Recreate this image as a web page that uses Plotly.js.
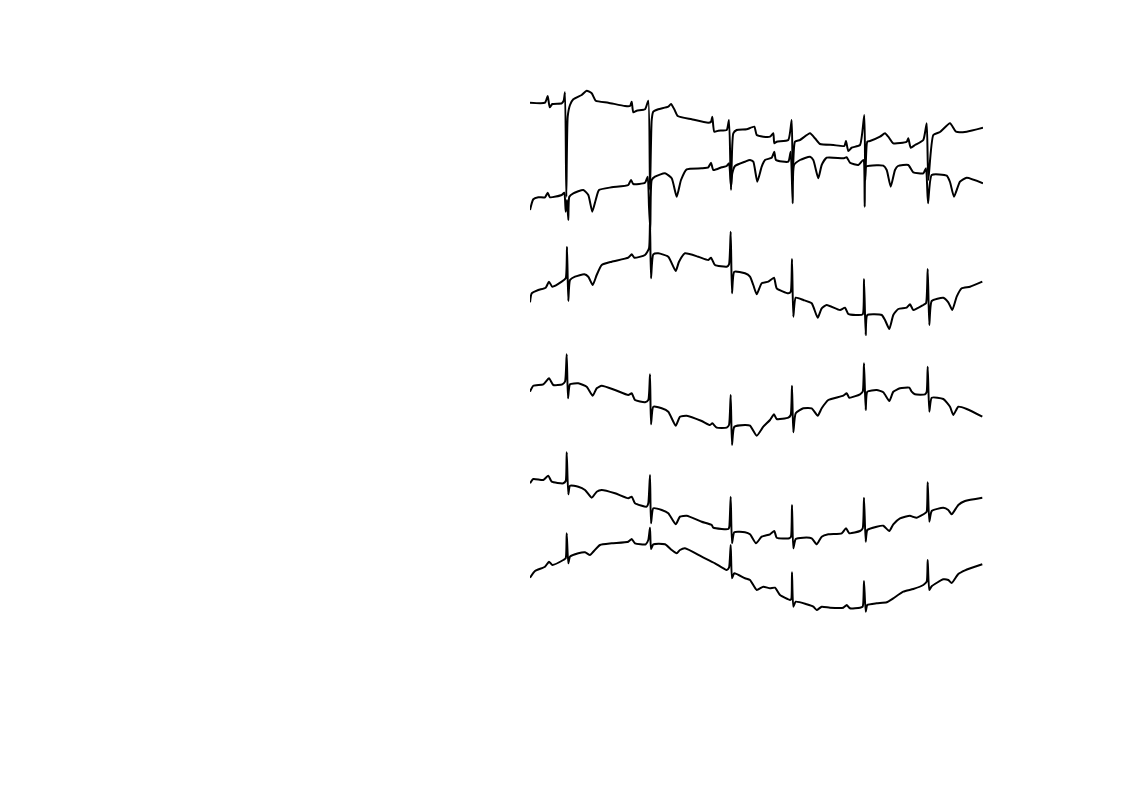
<!DOCTYPE html>
<html>
<head>
<meta charset="utf-8">
<script src="https://cdn.plot.ly/plotly-3.0.1.min.js"></script>
<style>html,body{margin:0;padding:0;background:#fff;}#chart{width:1122px;height:793px;}</style>
</head>
<body>
<div id="chart"></div>
<script>
// Six stacked ECG leads (time in samples, signal in display units, downward)
const lead1_t = [530,545,547.7,549.7,552.3,561.7,563.7,565,566.3,567.7,570,573.3,581.7,586.7,591.7,595.7,608.3,625,630,631.7,633.3,636.7,645,648.3,650,651.7,653.3,658.3,668.3,671,674.3,677.7,691.7,708.3,711,712.3,714.3,718.3,726.7,729,731,733.3,736.7,746.7,754.3,756.7,763.3,770,773.3,774.3,776.7,788.3,791.7,792.7,795,800,810,815,820,833.3,844.3,846,848.3,851.7,860,864.3,865.3,867.3,870,880,885,888.3,893.3,906.7,908.3,910.7,915,923.3,926.7,928.3,933.3,940,950,956,966.7,983];
const lead1_v = [102.7,102.7,96,107.3,104,103.3,100.7,92.3,196.7,116.7,105,99.3,95,90.7,93.3,100.7,102.7,106,106,101.7,112.3,110.7,109.3,100.7,190,120,111.7,109.3,106.7,104,109.3,116,119.3,122.7,121.7,116.7,131.7,130.7,130,120,190,133.3,130,129.3,126.7,135,136.7,136.7,133.3,143.3,141.7,140,120,180,141.7,140,133.3,138.3,144,145,146,141,151,147.7,145,115,180,141.7,141,136.7,133.3,136.7,143.3,141.7,138.3,147.7,145,140,123.3,180,135,132,123.3,131.7,131.7,127.7];

const lead2_t = [530,533.3,538.3,545,547.7,550,561.7,564.3,565.7,567,568.3,569.3,573.3,583.3,588.3,592.3,595.7,599,611.7,628.3,631,633.3,645,647.7,649,650.3,651.7,655,665,671.7,676.7,681,686.7,701.7,708.3,711,713.3,721.7,726.7,729,731,732.3,735,745,750,753.3,757.3,761.7,765,771.7,774.3,776,788.3,790.7,792.7,794,800,810,813.3,818.3,821.7,826.7,843.3,846.7,850,858.3,863.3,864.7,866,870,883.3,886.7,890.7,895,898,908.3,913.3,923.3,926,928,931.7,946.7,950,954,960,966.7,983];
const lead2_v = [210,199.3,197.3,197.3,192.7,197.3,195,192.7,211.7,200,220,196.7,193.3,190,195,211.7,200,190,187.3,185,180,184,182.7,176.7,206.7,230,180,176.7,173.3,178.3,196.7,180,169.3,168.3,167.3,162.7,170,167.3,166,163.3,186.7,173.3,166,161.7,160,161.7,181.7,166.7,160,157.7,151.7,160,161.7,151.7,203.3,165,160,156.7,160,178.3,165,157.7,158.3,157.3,162.7,165,160,206.7,166.7,165.7,165.7,170,186.7,170,166,165,172.3,173.3,168.3,203.3,175,175.7,182,196.7,181.7,177.7,183.3];

const lead3_t = [530,531.7,538.3,545.7,549,552.3,561.7,565.7,567,568.3,570,575,584.3,588.3,592.7,596.7,601.7,611.7,628.3,631.7,634.3,645,649,650,651,653.3,658.3,668.3,675.7,679,685,698.3,708.3,711,715,726.7,729,730.7,732,734.3,745,750,753.3,756.7,761.7,768.3,774,776.7,788.3,790.7,792,793.3,795.7,803.3,811.7,817.7,821.7,826.7,840,845,848.3,858.3,862.7,864,865.7,867.3,881.7,885,889.3,893.3,898.3,906.7,910,913.3,923.3,926,927.7,929.3,931.7,943.3,948.3,952.3,956.7,961.7,970,982.3];
const lead3_v = [302.3,293.3,290,287.7,281.7,286.7,281.7,278.3,246.7,301,280,276.7,274.3,276.7,285,275,265,261.7,257.7,254.3,257.7,255,248.3,221,278.3,254.3,253.3,256.7,271,261.7,253.3,256.7,260,257.7,265,266.7,264.3,231.7,293.3,271.7,273.3,276.7,285,294.3,283.3,281.7,277.7,288.3,293.3,291.7,259,316.7,297.7,300,303.3,317.7,308.3,305,310,307.7,314,315,314.3,279,335,315,315,320,329,315,309,307.7,304.3,310,305,303.3,269,325,301,297.7,302.3,310,296.7,288.3,286.7,281.7];

const lead4_t = [530,533.3,543.3,549,553.3,562.3,565,566.7,568,570,578.3,586.7,592.7,596.7,601.7,615,628.3,631.7,635,645,648.3,650,651,653.3,661.7,668.3,675.7,680,686.7,701.7,710,712.3,716.7,726.7,729,730.7,732,734.3,745,750,756.7,763.3,770,774,776.7,788.3,790.7,792,793.3,795.7,803.3,811.7,817.7,821.7,828.3,843.3,846.7,849.3,860,862.7,864,865.7,867.3,876.7,883.3,889.3,893.3,900,909.3,911.7,915,925,926.7,927.7,929.3,931.7,943.3,950,953.3,958.3,966.7,982.3];
const lead4_v = [391.7,385.7,384.3,378.3,385,384.3,381.7,354.3,398.3,384.3,383.3,386.7,395.7,388.3,385.7,390,395,393.3,400,402.3,400,374.3,424.3,406.7,408.3,411.7,425.7,416.7,415.7,421,425,423.3,427.7,427.7,425,395,445,426.7,425,425.7,435.7,426.7,420,414.3,419,417.7,415,385.7,432.3,413.3,408.3,408.3,415.7,408.3,400,395.7,393.3,397.7,394.3,391.7,363.3,410,391.7,390,392.3,401,391.7,388.3,387.7,391.7,394.3,394.3,391.7,366.7,411.7,397.7,399,406.7,415,406.7,409,416.7];

const lead5_t = [530,533.3,543.3,548.3,551.7,563.3,565.7,566.7,568.3,570,578.3,585,591.7,596.7,601.7,615,628.3,631.7,635,646.7,648.3,650,651,653.3,661.7,668.3,675.7,680,686.7,701.7,711.7,713.3,721.7,728.3,729.3,730.7,732,734.3,745,750,756,761.7,770,774.3,776.7,789.3,791,792,793.3,795.7,803.3,811.7,816.7,821.7,828.3,841.7,846,849.3,860,862.7,864,865.7,867.3,876.7,883.3,889.3,893.3,900,910,912.7,916.7,925,926.7,927.7,929.3,931.7,943.3,948.3,951.7,958.3,965,982.3];
const lead5_v = [483.3,479,480,475.7,481.7,483.3,481,452.3,494.3,485.7,486.7,490,497.7,491.7,490,493.3,498.3,496.7,503.3,506.7,503.3,475,523.3,508.3,510,513.3,524.3,516.7,515.7,521.7,525,527.7,529,529,526.7,496.7,543.3,532.3,532.3,534.3,543.3,536.7,534.3,531,537.7,538.3,536.7,505,548.3,539,537.7,538.3,544.3,536.7,534.3,533.3,528.3,533.3,531,528.3,497.7,541.7,530,526.7,525.7,531,524.3,518.3,515.7,516.7,517.7,513.3,511.7,482.3,521.7,511,507.7,510,514.3,505,501,497.7];

const lead6_t = [530,535,545,549,552.3,563.3,565.7,566.7,568.3,570,578.3,585,590,593.3,600,611.7,628.3,631.7,635,645.7,648.3,650,651,653.3,665,671.7,676.7,680,685,701.7,715,726.7,729,730.7,732,734.3,745,750,756.7,763.3,770,775,780,790,791.3,792,793.3,795.7,806.7,813.3,816.7,821.7,830,843.3,846.7,850,860,862.7,864,865.7,867.3,876.7,886.7,893.3,903.3,913.3,923.3,926.7,927.7,929.3,931.7,943.3,948.3,951.7,958.3,965,982.3];
const lead6_v = [577.7,571,566.7,561.7,565,560,558.3,533.3,563.3,556.7,553.3,552.3,555,551.7,545,543.3,541.7,539,543.3,544.3,540,527.7,549,544.3,544.3,550,553.3,550,548.3,556.7,563.3,570,567.7,545,578.3,573.3,578.3,580,590,586.7,588.3,587.7,595,600,599,572.3,606.7,601.7,604.3,606.7,610,606.7,607.7,607.7,605,608.3,607.7,606.7,581,611.7,605,603.3,602.3,598.3,591.7,589,585,581.7,560,590,586.3,579.3,580,583,574,570.3,564.3];

const leads = [
  [lead1_t, lead1_v], [lead2_t, lead2_v], [lead3_t, lead3_v],
  [lead4_t, lead4_v], [lead5_t, lead5_v], [lead6_t, lead6_v]
];

const traces = leads.map(([t, v]) => ({
  x: t, y: v, type: 'scatter', mode: 'lines',
  line: {color: '#000000', width: 2, shape: 'spline', smoothing: 0.5},
  hoverinfo: 'skip', showlegend: false
}));

const layout = {
  width: 1122, height: 793,
  margin: {l: 530, r: 139, t: 80, b: 178, pad: 0},
  paper_bgcolor: '#ffffff', plot_bgcolor: '#ffffff',
  xaxis: {range: [530, 983], visible: false, showgrid: false, zeroline: false},
  yaxis: {range: [615, 80], visible: false, showgrid: false, zeroline: false},
  showlegend: false
};

Plotly.newPlot('chart', traces, layout, {staticPlot: true, displayModeBar: false});
</script>
</body>
</html>
